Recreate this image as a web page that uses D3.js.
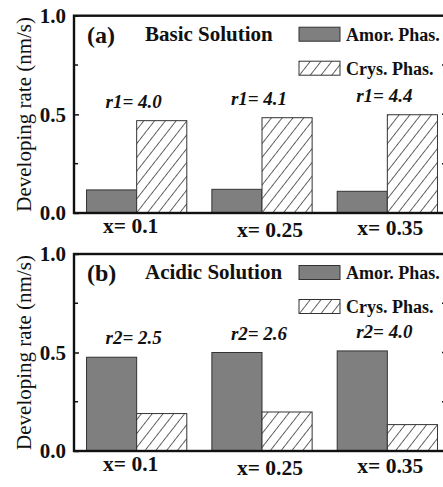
<!DOCTYPE html>
<html>
<head>
<meta charset="utf-8">
<script src="https://cdn.jsdelivr.net/npm/d3@7"></script>
<style>
  body { margin: 0; background: #fff; }
  text { font-family: "Liberation Serif", "Times New Roman", serif; fill: #111; }
</style>
</head>
<body>
<div id="canvas"></div>
<script>
const width = 443;
const height = 487;

// data
const categories = ["x= 0.1", "x= 0.25", "x= 0.35"];
const phases = ["Amor. Phas.", "Crys. Phas."];
const basicAmor = [0.117, 0.12, 0.11];
const basicCrys = [0.468, 0.483, 0.498];
const acidicAmor = [0.476, 0.50, 0.508];
const acidicCrys = [0.19, 0.198, 0.134];
const basicRatios = ["r1= 4.0", "r1= 4.1", "r1= 4.4"];
const acidicRatios = ["r2= 2.5", "r2= 2.6", "r2= 4.0"];
const yTicks = [0, 0.5, 1.0];
const yMinor = [0.25, 0.75];

const svg = d3.select("#canvas")
    .append("svg")
    .attr("width", width)
    .attr("height", height);

const defs = svg.append("defs");
const pat = defs.append("pattern")
    .attr("id", "hatch")
    .attr("patternUnits", "userSpaceOnUse")
    .attr("width", 8.5)
    .attr("height", 8.5)
    .attr("patternTransform", "rotate(38)");
pat.append("rect").attr("width", 8.5).attr("height", 8.5).attr("fill", "#fff");
pat.append("line")
    .attr("x1", 0).attr("y1", 0).attr("x2", 0).attr("y2", 8.5)
    .attr("stroke", "#111").attr("stroke-width", 1.3);

const left = 74, right = 447;

const x = d3.scaleBand()
    .domain(categories)
    .range([left, 450])
    .paddingInner(0.2)
    .paddingOuter(0.1);

const xs = d3.scaleBand()
    .domain(phases)
    .range([0, x.bandwidth()]);

function drawPanel(top, bottom, tag, title, amor, crys, ratios) {
    const g = svg.append("g");
    const y = d3.scaleLinear().domain([0, 1]).range([bottom, top]);

    const rows = categories.map((c, i) => ({cat: c, vals: [amor[i], crys[i]], ratio: ratios[i]}));

    const grp = g.selectAll(".grp")
        .data(rows)
        .enter().append("g")
        .attr("transform", d => `translate(${x(d.cat)},0)`);

    grp.selectAll("rect")
        .data(d => d.vals.map((v, j) => ({phase: phases[j], v: v})))
        .enter().append("rect")
        .attr("x", d => xs(d.phase))
        .attr("y", d => y(d.v))
        .attr("width", xs.bandwidth())
        .attr("height", d => bottom - y(d.v))
        .attr("fill", d => d.phase == phases[0] ? "#7f7f7f" : "url(#hatch)")
        .attr("stroke", "#333")
        .attr("stroke-width", 1);

    grp.append("text")
        .attr("x", x.bandwidth() / 2 - 3)
        .attr("y", d => y(d3.max(d.vals)) - 13)
        .attr("text-anchor", "middle")
        .attr("font-size", 19)
        .attr("font-weight", "bold")
        .attr("font-style", "italic")
        .text(d => d.ratio);

    // frame
    g.append("rect")
        .attr("x", left).attr("y", top)
        .attr("width", right - left).attr("height", bottom - top)
        .attr("fill", "none")
        .attr("stroke", "#111")
        .attr("stroke-width", 2.4);

    // y axis, ticks inward
    const yAxis = d3.axisLeft(y)
        .tickValues(yTicks)
        .tickSizeInner(-5)
        .tickSizeOuter(0)
        .tickPadding(8)
        .tickFormat(d3.format(".1f"));
    const ya = g.append("g")
        .attr("transform", `translate(${left},0)`)
        .call(yAxis);
    ya.select(".domain").remove();
    ya.selectAll("line").attr("stroke", "#111").attr("stroke-width", 1.5);
    ya.selectAll("text")
        .attr("font-size", 21)
        .attr("font-weight", "bold")
        .attr("fill", "#111");

    g.selectAll(".minor")
        .data(yMinor)
        .enter().append("line")
        .attr("x1", left).attr("x2", left + 4)
        .attr("y1", d => y(d)).attr("y2", d => y(d))
        .attr("stroke", "#111").attr("stroke-width", 1.5);

    // right side ticks
    g.selectAll(".rtick")
        .data(yTicks.concat(yMinor))
        .enter().append("line")
        .attr("x1", right - 5).attr("x2", right)
        .attr("y1", d => y(d)).attr("y2", d => y(d))
        .attr("stroke", "#111").attr("stroke-width", 1.5);

    // category labels
    g.selectAll(".xl")
        .data(categories)
        .enter().append("text")
        .attr("x", (d, i) => x(d) + x.bandwidth() / 2 + [-6, 8, 3][i])
        .attr("y", (d, i) => bottom + [20, 24, 22][i])
        .attr("text-anchor", "middle")
        .attr("font-size", 21.5)
        .attr("font-weight", "bold")
        .text(d => d);

    g.append("text")
        .attr("x", 31)
        .attr("y", (top + bottom) / 2)
        .attr("transform", `rotate(-90,31,${(top + bottom) / 2})`)
        .attr("text-anchor", "middle")
        .attr("font-size", 21)
        .text("Developing rate (nm/s)");

    g.append("text")
        .attr("x", 87).attr("y", top + 27)
        .attr("font-size", 24)
        .attr("font-weight", "bold")
        .text(tag);

    g.append("text")
        .attr("x", 145).attr("y", top + 25)
        .attr("font-size", 21)
        .attr("font-weight", "bold")
        .text(title);

    // legend
    const leg = g.selectAll(".leg")
        .data(phases)
        .enter().append("g")
        .attr("transform", (d, i) => `translate(299,${top + 11.5 + i * 34})`);
    leg.append("rect")
        .attr("width", 41).attr("height", 14)
        .attr("fill", (d, i) => i == 0 ? "#7f7f7f" : "url(#hatch)")
        .attr("stroke", "#333").attr("stroke-width", 1);
    leg.append("text")
        .attr("x", 47).attr("y", 13.5)
        .attr("font-size", 18)
        .attr("font-weight", "bold")
        .text(d => d);
}

drawPanel(15.7, 213, "(a)", "Basic Solution", basicAmor, basicCrys, basicRatios);
drawPanel(254, 451, "(b)", "Acidic Solution", acidicAmor, acidicCrys, acidicRatios);
</script>
</body>
</html>
